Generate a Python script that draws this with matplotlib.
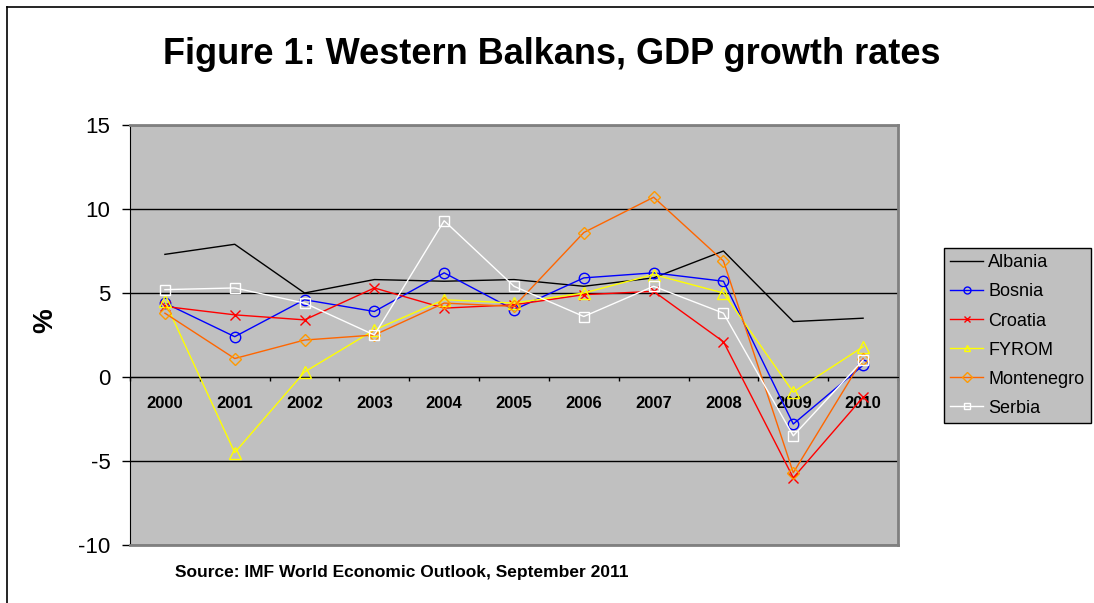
import numpy as np
import matplotlib
matplotlib.use('Agg')
import matplotlib.pyplot as plt
from matplotlib.lines import Line2D

plt.rcParams['font.family'] = ['Liberation Sans', 'DejaVu Sans']

years = ['2000', '2001', '2002', '2003', '2004', '2005', '2006', '2007', '2008', '2009', '2010']
albania = [7.3, 7.9, 5.0, 5.8, 5.7, 5.8, 5.4, 5.9, 7.5, 3.3, 3.5]
bosnia = [4.4, 2.4, 4.6, 3.9, 6.2, 4.0, 5.9, 6.2, 5.7, -2.8, 0.7]
croatia = [4.2, 3.7, 3.4, 5.3, 4.1, 4.3, 4.9, 5.1, 2.1, -6.0, -1.2]
fyrom = [4.5, -4.5, 0.3, 2.8, 4.6, 4.4, 5.0, 6.1, 5.0, -0.9, 1.8]
montenegro = [3.8, 1.1, 2.2, 2.5, 4.4, 4.2, 8.6, 10.7, 6.9, -5.7, 1.1]
serbia = [5.2, 5.3, 4.4, 2.5, 9.3, 5.4, 3.6, 5.4, 3.8, -3.5, 1.0]

fig = plt.figure(figsize=(10.94, 6.03), dpi=100)
ax = fig.add_axes([130/1094, 58/603, 768/1094, 420/603])
ax.set_facecolor('#C0C0C0')

x = np.arange(len(years))
ax.plot(x, albania, color='black', lw=1, label='Albania', zorder=3)
ax.plot(x, bosnia, color='#0000FF', lw=1, marker='o', ms=7.5, mfc='none', mec='#0000FF', label='Bosnia', zorder=3)
ax.plot(x, croatia, color='#FF0000', lw=1, marker='x', ms=7, mec='#FF0000', label='Croatia', zorder=3)
ax.plot(x, fyrom, color='#FFFF00', lw=1, marker='^', ms=8.5, mfc='none', mec='#FFFF00', label='FYROM', zorder=3)
ax.plot(x, montenegro, color='#FF6600', lw=1, marker='D', ms=6.5, mfc='none', mec='#FF9900', label='Montenegro', zorder=3)
ax.plot(x, serbia, color='white', lw=1, marker='s', ms=7.5, mfc='none', mec='white', label='Serbia', zorder=3)

# spines first: moving a spine resets the ticks
ax.spines['bottom'].set_position(('data', 0))
ax.spines['bottom'].set_color('black')
ax.spines['left'].set_color('black')
for s in ['top', 'right']:
    ax.spines[s].set_color('#808080')
    ax.spines[s].set_linewidth(2)
ax.axhline(-10, color='#808080', lw=2, zorder=4, clip_on=False)

ax.set_xlim(-0.5, 10.5)
ax.set_ylim(-10, 15)
ax.tick_params(axis='y', direction='out', length=6, width=1, pad=8, labelsize=16)
ax.set_yticks([-10, -5, 0, 5, 10, 15])
ax.set_yticklabels(['-10', '-5', '0', '5', '10', '15'])

ax.tick_params(axis='x', which='major', direction='out', length=3, width=1)
ax.tick_params(axis='x', which='minor', length=0, pad=14, labelsize=12)
ax.set_xticks(np.arange(-0.5, 11, 1))
ax.set_xticklabels([''] * 12)
ax.set_xticks(x, minor=True)
ax.set_xticklabels(years, minor=True, fontweight='bold')

ax.grid(axis='y', color='black', lw=1)
ax.set_axisbelow(True)

fig.text(45/1094, 1 - 321/603, '%', rotation=90, fontsize=20, fontweight='bold',
         ha='center', va='center')
fig.text(552/1094, 1 - 55/603, 'Figure 1: Western Balkans, GDP growth rates',
         fontsize=26, fontweight='bold', ha='center', va='center')
fig.text(175/1094, 1 - 572/603, 'Source: IMF World Economic Outlook, September 2011',
         fontsize=12.5, fontweight='bold', ha='left', va='center')

leg = fig.legend(loc='upper left', bbox_to_anchor=(944/1094, 1 - 248/603),
                 fontsize=13, frameon=True, fancybox=False, framealpha=1,
                 facecolor='#C0C0C0', edgecolor='black', handlelength=1.8,
                 labelspacing=0.67, borderpad=0.35, handletextpad=0.3,
                 borderaxespad=0)
leg.get_frame().set_linewidth(1)
for h in leg.legend_handles:
    h.set_markersize(5)

fig.add_artist(Line2D([7/1094, 7/1094], [0, 1 - 7/603], color='black', lw=1.2,
                      transform=fig.transFigure))
fig.add_artist(Line2D([7/1094, 1], [1 - 7/603, 1 - 7/603], color='black', lw=1.2,
                      transform=fig.transFigure))

fig.savefig('out.png', dpi=100)
